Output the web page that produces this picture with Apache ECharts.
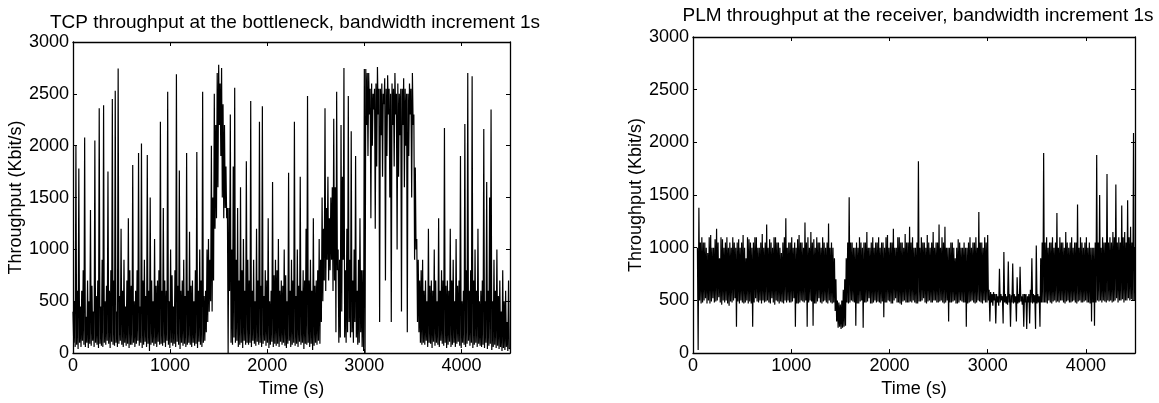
<!DOCTYPE html>
<html><head><meta charset="utf-8">
<script src="https://cdn.jsdelivr.net/npm/echarts@6/dist/echarts.min.js"></script>
<style>html,body{margin:0;padding:0;background:#fff}#c{width:1159px;height:403px}</style>
</head><body><div id="c"></div>
<script>
// ---- data: per 15 s slot, the top and bottom reached by the trace ----
const tcpTitle = 'TCP throughput at the bottleneck, bandwidth increment 1s';
const plmTitle = 'PLM throughput at the receiver, bandwidth increment 1s';
const xTicks = [0, 1000, 2000, 3000, 4000];
const yTicks = [0, 500, 1000, 1500, 2000, 2500, 3000];
const tcpStart = 0, tcpStep = 15;
const tcpHigh = [
 400,500,2000,600,1780,450,600,800,2080,350,700,500,1380,650,400,2050,550,700,2360,450,
 900,2390,500,650,1750,600,800,2450,700,2530,400,2745,550,1200,600,900,450,700,1300,800,
 650,1815,500,600,800,1930,450,2020,700,900,550,1910,600,1500,700,500,1100,650,700,800,
 2230,600,1400,700,600,2520,500,1000,750,450,800,2690,650,1760,600,700,900,550,1930,600,
 1170,650,700,500,800,1940,600,1000,700,2520,550,600,1000,1100,900,2000,1500,2500,2200,2700,
 2780,2600,2750,2400,2200,1800,1400,1400,2300,1000,1800,2560,900,1400,700,1600,800,1100,600,1850,
 900,700,2430,600,900,500,1200,700,2230,650,2380,550,800,700,1300,500,600,1650,750,900,
 800,1100,600,700,650,1000,750,500,1740,600,900,700,2230,550,1000,650,1700,600,800,700,
 1200,2480,700,900,600,1300,650,700,800,1100,900,1500,1200,2360,1400,1700,1300,1500,1600,2260,
 1600,2520,1000,900,2200,1700,2750,800,1200,2480,900,2140,700,1000,1900,600,900,1300,800,800,
 2740,2740,2700,2700,2550,2600,2500,2550,2600,2760,2550,2550,2600,2500,2650,2550,2680,2550,2500,2600,
 2550,2700,2500,2600,2500,2550,2550,2650,2550,2500,2500,2600,2550,2700,2300,1790,1100,900,700,800,
 900,600,700,500,1200,650,700,600,1000,700,500,1300,600,800,700,2170,650,700,600,1200,
 700,900,500,1100,650,700,1900,500,600,2210,800,2700,600,800,2670,700,1000,600,1200,500,
 600,700,2160,500,1650,600,1500,2350,500,900,600,1000,550,700,400,800,500,600,300,700,
 50
];
const tcpLow = [
 100,60,80,40,100,60,120,80,60,100,50,90,70,120,60,100,80,50,90,70,
 60,100,80,120,90,50,110,80,70,100,60,90,120,80,60,100,70,90,50,80,
 80,100,60,90,120,70,100,50,80,110,60,90,20,80,100,70,90,60,110,80,
 90,70,100,60,120,80,50,100,70,90,60,110,80,40,100,70,90,60,80,100,
 80,60,100,70,90,50,110,80,60,100,120,200,300,400,500,400,700,1200,1300,1600,
 2200,1900,1500,1300,1400,1300,0,600,100,80,150,100,120,60,80,100,50,120,80,100,
 80,100,60,120,90,70,110,80,100,60,90,120,70,100,50,80,110,60,90,70,
 90,60,110,80,100,70,50,90,120,60,80,100,70,90,60,110,80,100,40,90,
 80,100,60,90,30,70,100,80,120,90,300,500,700,600,900,700,800,900,600,700,
 200,800,100,150,400,900,150,100,200,300,150,200,100,300,150,80,100,200,60,20,
 0,2200,1900,2300,1300,2000,2350,1200,1800,2300,300,2100,1700,2400,700,1900,2300,1500,300,2200,
 1800,2300,1000,1700,2100,400,2200,1600,2000,200,1900,2300,1500,2200,900,1000,300,200,100,80,
 100,80,120,60,100,90,50,110,70,100,80,60,120,90,70,100,50,80,110,60,
 80,100,60,90,110,70,50,100,80,60,90,120,70,100,50,80,100,60,90,70,
 60,80,50,100,40,70,90,30,60,80,50,70,40,60,20,50,30,60,20,40
];
const plmStart = 45, plmStep = 15;
const plmHigh = [
 1000,1380,1050,
 1100,1050,1050,1000,950,1100,1120,1000,1000,1080,1180,1050,900,1100,1080,1000,1050,1100,1000,1050,
 1000,1100,1050,1000,1050,1080,1000,1050,1120,1000,900,1100,1080,1050,1000,1050,1100,1100,1000,1000,
 1050,1130,1000,1050,1220,1000,1080,1050,1000,1100,1100,1050,1050,1000,950,1050,1100,1280,1000,1050,
 1050,1100,1000,1050,1000,1080,1120,1050,1050,1000,1240,1050,1100,1000,1150,1050,1080,1000,1100,1050,
 1050,1000,1100,1050,1000,1050,1230,1000,1050,1000,900,700,500,480,460,500,600,700,900,1050,
 1480,1050,1050,1000,1000,1050,1000,1100,1050,1000,1050,1050,1150,1000,1000,1050,1100,1000,1050,1050,
 1100,1000,1050,1050,1000,1100,1120,1000,1050,1050,1180,1000,1000,1100,1100,1050,1050,1000,1130,1050,
 1050,1200,1050,1100,1000,1000,1050,1820,1000,1100,1050,1050,1000,1120,1050,1000,1050,1150,1000,1050,
 1050,1220,1000,1100,1050,1200,1000,1000,1000,1050,1050,1000,900,1000,1080,1050,1000,1000,1050,1000,
 1000,1050,1100,1000,1050,1050,1100,1000,1340,1050,1050,1000,1100,1050,1120,600,580,560,580,560,
 560,540,800,560,540,960,560,540,870,560,550,850,560,540,720,560,820,540,560,560,
 560,540,560,600,900,560,550,1020,560,540,900,1050,1900,1050,1100,1000,1050,1050,1100,1000,
 1050,1330,1000,1100,1050,1050,1000,1150,1050,1000,1050,1100,1000,1050,1050,1410,1000,1100,1050,1000,
 1050,1100,1000,1050,1000,1000,1000,1050,1880,1050,1500,1000,1100,1050,1050,1700,1050,1100,1050,1150,
 1100,1600,1050,1100,1050,1400,1100,1150,1050,1450,1100,1200,1050,2090,1000
];
const plmLow = [
 30,500,470,
 480,500,520,470,500,470,490,520,480,490,500,530,480,460,500,480,500,470,450,490,
 480,500,520,250,490,470,500,480,470,480,500,470,490,470,250,480,520,490,480,500,
 470,500,480,490,500,480,470,520,480,460,500,490,470,490,480,470,500,480,500,480,
 480,490,520,250,470,470,480,500,490,480,500,250,480,500,490,260,470,470,490,520,
 480,470,490,500,480,470,500,480,470,480,400,300,240,250,230,240,250,260,480,470,
 480,500,490,480,260,470,470,490,500,240,480,480,490,520,470,470,480,500,480,490,
 480,470,490,340,480,480,500,490,470,470,500,520,480,480,470,460,490,500,480,480,
 480,490,480,500,480,470,470,490,490,500,520,480,470,490,500,480,480,500,500,480,
 480,490,500,480,470,480,500,300,480,480,490,500,470,470,480,500,490,480,480,250,
 470,480,490,500,480,470,480,500,490,480,470,500,480,480,500,300,480,450,500,280,
 480,450,480,500,280,480,470,460,480,250,480,470,480,300,470,480,490,460,250,480,
 230,480,280,480,470,480,230,470,480,250,480,480,480,480,470,500,480,470,490,500,
 480,490,480,500,500,480,470,490,500,480,480,490,500,480,470,490,500,480,480,490,
 500,480,480,470,300,480,260,480,500,490,500,480,500,490,480,500,490,500,480,490,
 500,520,480,500,500,510,480,500,500,520,500,510,500,500
];
const xMax = 4500, yMax = 3000;

// ---- build: the trace goes slot top -> slot bottom -> next slot top ... ----
function build(start, step, hi, lo) {
  const out = [];
  hi.forEach((v, i) => {
    out.push([start + i * step, v]);
    if (i < lo.length) out.push([start + i * step + step / 2, lo[i]]);
  });
  return out;
}
const FONT = '"Liberation Sans", Arial, sans-serif';
const grids = [
  {left: 73, width: 437, top: 42, height: 312},
  {left: 693, width: 442, top: 37, height: 317}
];
const lineCol = '#000';
function xAxes(g) {
  const base = {gridIndex: g, type: 'value', min: 0, max: xMax, interval: xTicks[1] - xTicks[0],
    splitLine: {show: false},
    axisLine: {show: true, onZero: false, lineStyle: {color: lineCol, width: 1.3}},
    axisTick: {show: true, inside: true, length: 4, lineStyle: {color: lineCol}}};
  return [
    Object.assign({}, base, {position: 'bottom', name: 'Time (s)', nameLocation: 'middle', nameGap: 26,
      nameTextStyle: {fontFamily: FONT, fontSize: 18, color: '#000'},
      axisLabel: {fontFamily: FONT, fontSize: 18, color: '#000', margin: 4,
        formatter: v => xTicks.indexOf(v) >= 0 ? String(v) : ''}}),
    Object.assign({}, base, {position: 'top', axisLabel: {show: false}})
  ];
}
function yAxes(g) {
  const base = {gridIndex: g, type: 'value', min: 0, max: yMax, interval: yTicks[1] - yTicks[0],
    splitLine: {show: false},
    axisLine: {show: true, onZero: false, lineStyle: {color: lineCol, width: 1.3}},
    axisTick: {show: true, inside: true, length: 4, lineStyle: {color: lineCol}}};
  return [
    Object.assign({}, base, {position: 'left', name: 'Throughput (Kbit/s)', nameLocation: 'middle', nameGap: 37,
      nameTextStyle: {fontFamily: FONT, fontSize: 18, color: '#000'},
      axisLabel: {fontFamily: FONT, fontSize: 18, color: '#000', margin: 4,
        formatter: v => yTicks.indexOf(v) >= 0 ? String(v) : ''}}),
    Object.assign({}, base, {position: 'right', axisLabel: {show: false}})
  ];
}
const option = {
  animation: false,
  backgroundColor: '#fff',
  title: [
    {text: tcpTitle, left: 290, top: 8, textAlign: 'center',
      textStyle: {fontFamily: FONT, fontSize: 19, fontWeight: 'normal', color: '#000'}},
    {text: plmTitle, left: 913, top: 1, textAlign: 'center',
      textStyle: {fontFamily: FONT, fontSize: 19, fontWeight: 'normal', color: '#000'}}
  ],
  grid: grids,
  xAxis: [...xAxes(0), ...xAxes(1)],
  yAxis: [...yAxes(0), ...yAxes(1)],
  series: [
    {type: 'line', xAxisIndex: 0, yAxisIndex: 0, data: build(tcpStart, tcpStep, tcpHigh, tcpLow),
      showSymbol: false, symbol: 'none', lineStyle: {color: '#000', width: 1.2, join: 'bevel'}},
    {type: 'line', xAxisIndex: 2, yAxisIndex: 2, data: build(plmStart, plmStep, plmHigh, plmLow),
      showSymbol: false, symbol: 'none', lineStyle: {color: '#000', width: 1.2, join: 'bevel'}}
  ]
};
const chart = echarts.init(document.getElementById('c'), null, {renderer: 'canvas'});
chart.setOption(option);
</script></body></html>
